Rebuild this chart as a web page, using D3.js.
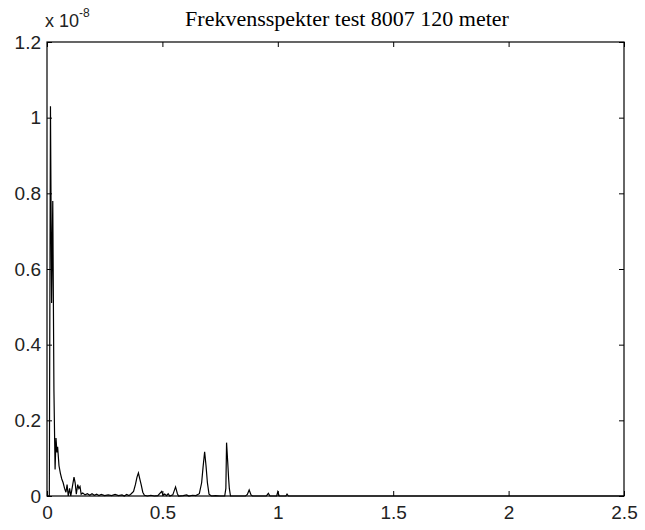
<!DOCTYPE html>
<html>
<head>
<meta charset="utf-8">
<script src="https://cdn.jsdelivr.net/npm/d3@7"></script>
<style>
  html, body { margin: 0; padding: 0; background: #fff; }
  svg { display: block; }
</style>
</head>
<body>
<svg id="chart" width="645" height="530"></svg>
<script>
// ---- data (amplitude in units of 1e-8) ----
const titleText = "Frekvensspekter test 8007 120 meter";
const xTicks = [0, 0.5, 1, 1.5, 2, 2.5];
const xTickLabels = ["0", "0.5", "1", "1.5", "2", "2.5"];
const yTicks = [0, 0.2, 0.4, 0.6, 0.8, 1, 1.2];
const yTickLabels = ["0", "0.2", "0.4", "0.6", "0.8", "1", "1.2"];
const exponentLabel = "-8";

const freq = [
  0, 0.010, 0.015, 0.020, 0.025, 0.030, 0.035, 0.039, 0.043, 0.046,
  0.052, 0.058, 0.064, 0.070, 0.076, 0.082, 0.087, 0.092, 0.098, 0.103,
  0.110, 0.117, 0.122, 0.127, 0.133, 0.138, 0.143, 0.148, 0.155, 0.165,
  0.175, 0.185, 0.195, 0.205, 0.215, 0.225, 0.235, 0.250, 0.265, 0.280,
  0.295, 0.310, 0.325, 0.335, 0.345, 0.355, 0.365, 0.375, 0.383, 0.390,
  0.396, 0.402, 0.408, 0.415, 0.422, 0.435, 0.450, 0.465, 0.480, 0.497,
  0.503, 0.510, 0.518, 0.525, 0.532, 0.545, 0.557, 0.565, 0.570, 0.590,
  0.605, 0.615, 0.630, 0.645, 0.660, 0.670, 0.676, 0.683, 0.689, 0.695,
  0.702, 0.712, 0.730, 0.750, 0.770, 0.775, 0.778, 0.783, 0.787, 0.790,
  0.795, 0.820, 0.860, 0.868, 0.876, 0.884, 0.890, 0.950, 0.959, 0.966,
  0.995, 1.000, 1.006, 1.035, 1.040, 1.046, 2.500
];
const amp = [
  0.000, 0.000, 1.030, 0.510, 0.780, 0.280, 0.070, 0.153, 0.115, 0.130,
  0.080, 0.060, 0.045, 0.035, 0.020, 0.010, 0.030, 0.000, 0.020, 0.000,
  0.025, 0.050, 0.035, 0.005, 0.030, 0.020, 0.025, 0.005, 0.008, 0.003,
  0.006, 0.002, 0.006, 0.002, 0.005, 0.001, 0.004, 0.001, 0.003, 0.001,
  0.004, 0.001, 0.003, 0.000, 0.004, 0.001, 0.006, 0.012, 0.030, 0.050,
  0.061, 0.045, 0.030, 0.010, 0.002, 0.000, 0.002, 0.000, 0.001, 0.012,
  0.002, 0.005, 0.001, 0.006, 0.000, 0.003, 0.024, 0.006, 0.000, 0.001,
  0.003, 0.000, 0.002, 0.001, 0.006, 0.035, 0.075, 0.117, 0.080, 0.035,
  0.005, 0.000, 0.001, 0.000, 0.000, 0.020, 0.141, 0.090, 0.045, 0.020,
  0.000, 0.000, 0.000, 0.004, 0.016, 0.003, 0.000, 0.000, 0.007, 0.000,
  0.000, 0.011, 0.000, 0.000, 0.005, 0.000, 0.000
];

const data = freq.map((f, i) => ({ f: f, v: amp[i] }));

// ---- layout ----
const svg = d3.select("#chart");
const mLeft = 47, mRight = 624, mTop = 42, mBottom = 496;

const x = d3.scaleLinear().domain([0, 2.5]).range([mLeft, mRight]);
const y = d3.scaleLinear().domain([0, 1.2]).range([mBottom, mTop]);

const tickFont = "'Liberation Sans', Arial, sans-serif";
const tickSize = 19;

// data line
svg.append("path")
  .datum(data)
  .attr("fill", "none")
  .attr("stroke", "#000")
  .attr("stroke-width", 1.2)
  .attr("d", d3.line().x(d => x(d.f)).y(d => y(d.v)));

// axes (ticks inside)
const axisStyle = g => {
  g.select(".domain").remove();
  g.selectAll(".tick line").attr("stroke", "#000").attr("stroke-width", 1);
  g.selectAll(".tick text")
    .attr("font-family", tickFont)
    .attr("font-size", tickSize)
    .attr("fill", "#222");
};

svg.append("g")
  .attr("transform", `translate(0,${mBottom})`)
  .call(d3.axisBottom(x).tickValues(xTicks).tickSize(-5).tickPadding(10)
    .tickFormat((d, i) => xTickLabels[i]))
  .call(axisStyle);

svg.append("g")
  .attr("transform", `translate(0,${mTop})`)
  .call(d3.axisTop(x).tickValues(xTicks).tickSize(-5).tickFormat(""))
  .call(axisStyle);

svg.append("g")
  .attr("transform", `translate(${mLeft},0)`)
  .call(d3.axisLeft(y).tickValues(yTicks).tickSize(-5).tickPadding(6)
    .tickFormat((d, i) => yTickLabels[i]))
  .call(axisStyle);

svg.append("g")
  .attr("transform", `translate(${mRight},0)`)
  .call(d3.axisRight(y).tickValues(yTicks).tickSize(-5).tickFormat(""))
  .call(axisStyle);

// box
svg.append("rect")
  .attr("x", mLeft).attr("y", mTop)
  .attr("width", mRight - mLeft).attr("height", mBottom - mTop)
  .attr("fill", "none").attr("stroke", "#000").attr("stroke-width", 1.2);

// exponent label
const expo = svg.append("text")
  .attr("x", 45).attr("y", 27)
  .attr("font-family", tickFont)
  .attr("font-size", 18)
  .attr("fill", "#222");
expo.append("tspan").text("x 10");
expo.append("tspan").attr("dy", -10).attr("font-size", 12).text(exponentLabel);

// title
svg.append("text")
  .attr("x", 347).attr("y", 26)
  .attr("text-anchor", "middle")
  .attr("font-family", "'Liberation Serif', 'Times New Roman', serif")
  .attr("font-size", 22)
  .attr("fill", "#000")
  .text(titleText);
</script>
</body>
</html>
